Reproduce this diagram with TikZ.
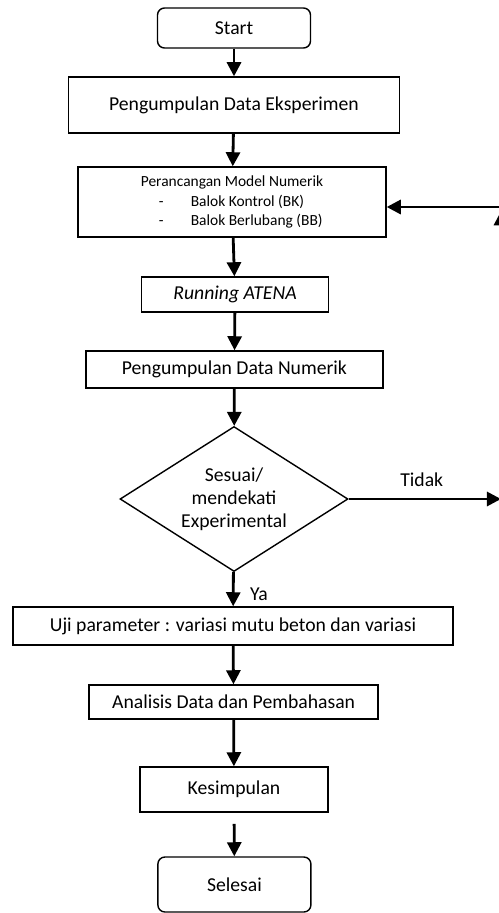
\documentclass[tikz,border=0pt]{standalone}
\usepackage{fontspec}
\setmainfont{Carlito}
\usetikzlibrary{arrows.meta, shapes.geometric}

\begin{document}
\begin{tikzpicture}[
  font=\fontsize{14}{17}\selectfont,
  term/.style={draw=black, line width=1pt, rounded corners=5pt, align=center,
               minimum width=3.825cm},
  box/.style={draw=black, line width=1pt, align=center, inner sep=2pt},
  cek/.style={draw=black, line width=1pt, shape=diamond, aspect=1.6, inner sep=0pt,
              align=center, minimum width=5.7cm, minimum height=3.625cm},
  lbl/.style={text=black, inner sep=4pt},
  flow/.style={-{Triangle[length=10pt,width=10pt]}, draw=black, line width=2pt}
]
\useasboundingbox (0,0) rectangle (12.475,-22.825);
\node[term, minimum height=1cm]                       (start)    at (5.85,-0.7)     {Start};
\node[box, minimum width=8.275cm, minimum height=1.4cm] (eksp)   at (5.85,-2.625)   {Pengumpulan Data Eksperimen};
\node[box, minimum width=7.7cm, minimum height=1.75cm, align=left,
      font=\fontsize{11}{14}\selectfont]              (rancang)  at (5.8,-5.05)
      {Perancangan Model Numerik\\
       \hspace*{0.45cm}-\hspace{0.68cm}Balok Kontrol (BK)\\
       \hspace*{0.45cm}-\hspace{0.68cm}Balok Berlubang (BB)};
\node[box, minimum width=4.675cm, minimum height=0.875cm,
      font=\fontsize{14}{17}\selectfont\itshape]      (running)  at (5.875,-7.3625) {Running ATENA};
\node[box, minimum width=7.425cm, minimum height=0.925cm] (numerik) at (5.86,-9.2375) {Pengumpulan Data Numerik};
\node[cek, font=\fontsize{14}{16.5}\selectfont]        (cocok)    at (5.85,-12.475)  {Sesuai/\\mendekati\\Experimental};
\node[box, minimum width=11cm, minimum height=0.95cm]  (uji)      at (5.825,-15.65)  {Uji parameter : variasi mutu beton dan variasi};
\node[box, minimum width=7.225cm, minimum height=0.85cm] (analisis) at (5.84,-17.55) {Analisis Data dan Pembahasan};
\node[box, minimum width=4.7cm, minimum height=1.125cm] (simpul)  at (5.85,-19.7375) {Kesimpulan};
\node[term, minimum height=1.375cm]                   (selesai)  at (5.86,-22.1125) {Selesai};
\coordinate (ujung) at (12.525,-12.475);
\coordinate (sudut) at (12.525,-5.175);
\draw[flow] (start)    -- (eksp);
\draw[flow] (eksp)     -- (rancang);
\draw[flow] (rancang)  -- (running);
\draw[flow] (running)  -- (numerik);
\draw[flow] (numerik)  -- (cocok);
\draw[flow] (cocok)    -- node[lbl,right,pos=0.66,xshift=7pt]{Ya} (uji);
\draw[flow] (uji)      -- (analisis);
\draw[flow] (analisis) -- (simpul);
\draw[flow, shorten <=8pt] (simpul) -- (selesai);
\draw[flow] (cocok.east) -- node[lbl,above,pos=0.48,yshift=3.5pt]{Tidak} (ujung);
\draw[flow, shorten >=3pt] (ujung) -- (sudut);
\draw[flow] (sudut) -- (sudut -| rancang.east);
\end{tikzpicture}
\end{document}
